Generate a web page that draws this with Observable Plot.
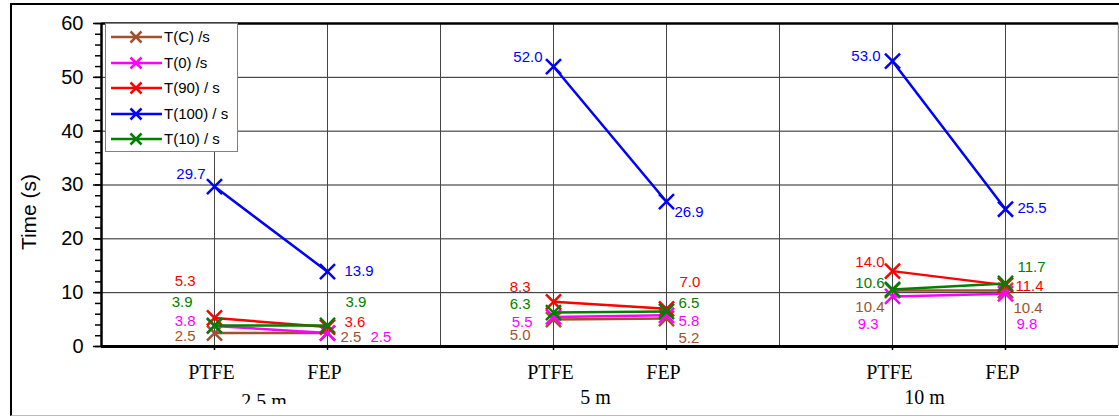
<!DOCTYPE html>
<html>
<head>
<meta charset="utf-8">
<script src="https://cdn.jsdelivr.net/npm/d3@7"></script>
<script src="https://cdn.jsdelivr.net/npm/@observablehq/plot@0.6"></script>
<style>
  html, body { margin: 0; padding: 0; background: #fff; }
  #chart { position: relative; width: 1119px; height: 416px; overflow: hidden; font-family: "Liberation Sans", Arial, sans-serif; }
  #chart > svg { position: absolute; left: 0; top: 0; }
  .frame { position: absolute; left: 10px; top: 3px; width: 1120px; height: 410px;
           border-top: 2px solid #000; border-left: 2px solid #000; border-bottom: 1px solid #bbb; pointer-events: none; }
  .mask { position: absolute; left: 12px; top: 404px; width: 1107px; height: 10px; background: #fff; }
  .ylabel { position: absolute; left: 29px; top: 212px; transform: translate(-50%, -50%) rotate(-90deg);
            font-size: 21px; line-height: 24px; color: #000; white-space: nowrap; }
  .legend { position: absolute; left: 105px; top: 23px; width: 133px; height: 129px;
            border: 1px solid #808080; background: #fff; box-sizing: border-box; }
  .legend .row { position: absolute; left: 5px; height: 16px; display: flex; align-items: center; }
  .legend .row svg { display: block; flex: none; }
  .legend .row span { margin-left: 2px; font-size: 15px; line-height: 16px; color: #000; white-space: nowrap; }
</style>
</head>
<body>
<div id="chart"></div>
<script>
// Categories along the x axis
const materials = ["PTFE", "FEP"];
const groups = ["2.5 m", "5 m", "10 m"];

// Series names and colours
const seriesNames = ["T(C) /s", "T(0) /s", "T(90) / s", "T(100) / s", "T(10) / s"];
const seriesColors = ["#A0522D", "#FF00FF", "#FF0000", "#0000FF", "#008000"];

// Times in seconds, ordered: 2.5 m PTFE, 2.5 m FEP, 5 m PTFE, 5 m FEP, 10 m PTFE, 10 m FEP
const tC   = [2.5, 2.5, 5.0, 5.2, 10.4, 10.4];
const t0   = [3.8, 2.5, 5.5, 5.8, 9.3, 9.8];
const t90  = [5.3, 3.6, 8.3, 7.0, 14.0, 11.4];
const t100 = [29.7, 13.9, 52.0, 26.9, 53.0, 25.5];
const t10  = [3.9, 3.9, 6.3, 6.5, 10.6, 11.7];

// Y axis
const yTitle = "Time (s)";
const yTicks = [0, 10, 20, 30, 40, 50, 60];
const yMinorTicks = d3.range(0, 61, 2);

// Pixel nudges [dx, dy] for each value label, so stacked labels stay readable
const nudgeC   = [[-19, 3], [13, 4], [-23, 16], [12, 20], [-8, 17], [8, 18]];
const nudge0   = [[-19, -5], [43, 4], [-21, 5], [12, 6], [-14, 28], [11, 30]];
const nudge90  = [[-19, -37], [17, -5], [-23, -15], [13, -27], [-8, -9], [10, 1]];
const nudge100 = [[-9, -12], [17, 0], [-11, -9], [8, 10], [-12, -5], [12, -1]];
const nudge10  = [[-22, -23], [18, -23], [-23, -8], [12, -8], [-8, -6], [12, -16]];

const seriesValues = [tC, t0, t90, t100, t10];
const seriesNudges = [nudgeC, nudge0, nudge90, nudge100, nudge10];

// Each group takes three slots on a linear x scale: PTFE, FEP, then a gap
const slotOf = (g, m) => 3 * g + m + 1;

const rows = [];
seriesNames.forEach((name, s) => {
  groups.forEach((group, g) => {
    materials.forEach((material, m) => {
      const i = g * 2 + m;
      rows.push({
        series: name, group, material, slot: slotOf(g, m),
        value: seriesValues[s][i], dx: seriesNudges[s][i][0], dy: seriesNudges[s][i][1]
      });
    });
  });
});

const slots = groups.flatMap((g, gi) => materials.map((m, mi) => ({material: m, slot: slotOf(gi, mi)})));
const groupShift = [-7, -14.5, -24.5];
const groupDrop = [4, 0, 0];

const sans = "'Liberation Sans', Arial, sans-serif";
const serif = "'Liberation Serif', 'Times New Roman', serif";

const seriesMarks = seriesNames.flatMap((name) => {
  const data = rows.filter(d => d.series === name);
  return [
    Plot.line(data, {x: "slot", y: "value", z: "group", stroke: "series", strokeWidth: 2.5}),
    Plot.dot(data, {x: "slot", y: "value", symbol: "times", r: 6.9, stroke: "series", strokeWidth: 2.5})
  ];
});

const labelMarks = rows.map(d => Plot.text([d], {
  x: "slot", y: "value", text: r => r.value.toFixed(1), fill: "series",
  textAnchor: d.material === "PTFE" ? "end" : "start",
  dx: d.dx, dy: d.dy, fontSize: 15, fontFamily: sans
}));

const plot = Plot.plot({
  width: 1119,
  height: 416,
  marginLeft: 101,
  marginRight: 1,
  marginTop: 23,
  marginBottom: 70,
  style: {fontFamily: sans, background: "transparent"},
  x: {domain: [0, 9], axis: null},
  y: {domain: [0, 60], axis: null},
  color: {domain: seriesNames, range: seriesColors},
  marks: [
    // grid
    Plot.ruleY(yTicks.filter(v => v > 0 && v < 60), {stroke: "#222", strokeWidth: 1}),
    Plot.ruleX(d3.range(1, 9), {stroke: "#444", strokeWidth: 1}),
    Plot.ruleX([9], {stroke: "#999", strokeWidth: 1.5}),
    Plot.ruleY([60], {stroke: "#000", strokeWidth: 2.5}),
    // y axis
    Plot.axisY({ticks: yMinorTicks, tickSize: 6, tickFormat: () => "", strokeWidth: 1.5, label: null}),
    Plot.axisY({ticks: yTicks, tickSize: 8, tickPadding: 10, fontSize: 20, fontFamily: sans, strokeWidth: 1.5, label: null}),
    Plot.ruleX([0], {stroke: "#000", strokeWidth: 2.5}),
    // x axis
    Plot.axisX({ticks: slots.map(d => d.slot), tickSize: 4, tickFormat: () => "", strokeWidth: 1.5, label: null}),
    Plot.ruleY([0], {stroke: "#000", strokeWidth: 3}),
    Plot.text(slots, {x: "slot", text: "material", frameAnchor: "bottom", lineAnchor: "bottom", dy: 32, dx: -3, fontSize: 20, fontFamily: serif, fill: "#000"}),
    ...groups.map((g, gi) => Plot.text([g], {
      x: () => 3 * gi + 1.5, text: d => d, frameAnchor: "bottom", lineAnchor: "bottom",
      dy: 57 + groupDrop[gi], dx: groupShift[gi], fontSize: 20, fontFamily: serif, fill: "#000"
    })),
    // series
    ...seriesMarks,
    ...labelMarks
  ]
});

const chart = document.getElementById("chart");
chart.appendChild(plot);

// Y axis title
const ylabel = document.createElement("div");
ylabel.className = "ylabel";
ylabel.textContent = yTitle;
chart.appendChild(ylabel);

// Clip band under the group labels and the outer chart border
const mask = document.createElement("div");
mask.className = "mask";
chart.appendChild(mask);
const frame = document.createElement("div");
frame.className = "frame";
chart.appendChild(frame);

// Legend
const legend = d3.select(chart).append("div").attr("class", "legend");
seriesNames.forEach((name, i) => {
  const row = legend.append("div").attr("class", "row").style("top", `${5 + i * 25.5}px`);
  const sw = row.append("svg").attr("width", 51).attr("height", 16);
  sw.append("line").attr("x1", 0).attr("x2", 51).attr("y1", 8).attr("y2", 8)
    .attr("stroke", seriesColors[i]).attr("stroke-width", 2.5);
  const s = 5.5;
  sw.append("path").attr("d", `M${25 - s},${8 - s}L${25 + s},${8 + s}M${25 - s},${8 + s}L${25 + s},${8 - s}`)
    .attr("stroke", seriesColors[i]).attr("stroke-width", 2.5).attr("fill", "none");
  row.append("span").text(name);
});
</script>
</body>
</html>
